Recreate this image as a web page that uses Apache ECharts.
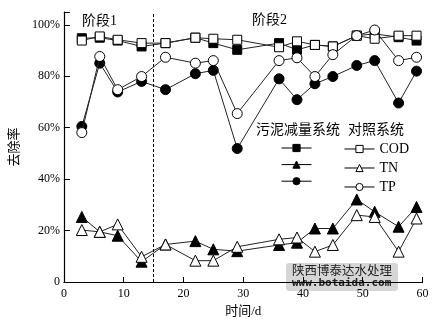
<!DOCTYPE html>
<html><head><meta charset="utf-8">
<script src="https://cdn.jsdelivr.net/npm/echarts@6/dist/echarts.min.js"></script>
<style>html,body{margin:0;padding:0;background:#fff}#c{width:441px;height:327px}</style>
</head><body><div id="c"></div>
<script>
const days = [3,6,9,13,17,22,25,29,36,39,42,45,49,52,56,59];
const codSludge = [94.8,95.0,93.9,91.6,92.9,95.0,92.9,90.3,92.9,90.3,92.2,91.6,95.8,96.5,95.2,93.9];
const codControl = [93.9,95.5,94.2,92.9,92.9,95.0,94.6,94.2,91.3,93.6,92.2,91.6,95.8,94.6,95.8,95.8];
const tnSludge = [25.3,19.5,18.0,7.9,14.6,15.9,12.7,12.0,14.4,15.3,20.8,20.8,32.1,27.3,21.5,29.2];
const tnControl = [20.2,19.5,22.4,9.8,14.6,8.3,8.3,13.7,16.6,17.3,11.8,14.4,26.0,25.3,11.8,24.7];
const tpSludge = [60.5,85.1,73.9,78.0,74.8,81.0,82.3,51.9,79.0,70.9,77.1,79.9,84.2,86.1,69.6,82.0];
const tpControl = [58.1,87.7,74.8,79.9,87.4,85.1,86.1,65.5,86.1,87.2,79.9,88.4,95.8,98.0,86.1,87.4];
const yTicks = [0,20,40,60,80,100];
const stageSplit = 15;

const font = '"Liberation Serif","Noto Sans CJK SC",serif';
const pair = (xs, ys) => xs.map((x,i)=>[x, ys[i]]);
function ser(name, data, symbol, filled, size){
  return {
    name, type:'line', data: pair(days, data), symbol, symbolSize: size,
    lineStyle:{color:'#222', width:1},
    itemStyle:{color: filled ? '#000' : '#fff', borderColor:'#000', borderWidth:1},
    emphasis:{disabled:true}, animation:false, z: filled?3:4
  };
}
const series = [
  ser('COD-s', codSludge, 'rect', true, 9),
  ser('TN-s', tnSludge, 'triangle', true, 11),
  ser('TP-s', tpSludge, 'circle', true, 10),
  ser('COD', codControl, 'rect', false, 9),
  ser('TN', tnControl, 'triangle', false, 11),
  ser('TP', tpControl, 'circle', false, 10)
];
series[0].markLine = {
  silent:true, symbol:['none','none'], label:{show:false},
  lineStyle:{color:'#000', type:[3,2], width:1},
  data:[{xAxis: stageSplit}]
};
const legendCommon = {orient:'vertical', itemWidth:30, itemHeight:9, padding:0, selectedMode:false,
  lineStyle:{width:1, color:'#000'}, itemStyle:{borderWidth:1}};
const chart = echarts.init(document.getElementById('c'), null, {renderer:'canvas'});
chart.setOption({
  animation:false,
  textStyle:{fontFamily:font},
  grid:{left:52.5, right:18.5, top:12, bottom:45},
  xAxis:{type:'value', min:0, max:60, interval:10,
    name:'时间/d', nameLocation:'middle', nameGap:23,
    nameTextStyle:{fontFamily:font, fontSize:13, color:'#000'},
    axisLine:{lineStyle:{color:'#000', width:1.2}},
    axisTick:{inside:true, length:5, lineStyle:{color:'#000'}},
    axisLabel:{fontFamily:font, fontSize:12, color:'#000', margin:6},
    splitLine:{show:false}},
  yAxis:{type:'value', min:0, max:105, interval:20,
    name:'去除率', nameLocation:'middle', nameGap:38, nameRotate:90,
    nameTextStyle:{fontFamily:font, fontSize:13, color:'#000'},
    axisLine:{show:true, lineStyle:{color:'#000', width:1.2}},
    axisTick:{inside:true, length:6, lineStyle:{color:'#000'}},
    axisLabel:{fontFamily:font, fontSize:12, color:'#000', margin:4,
      formatter:v => yTicks.includes(v) ? (v===0 ? '0' : v+'%') : ''},
    splitLine:{show:false}},
  legend:[
    Object.assign({data:['COD-s','TN-s','TP-s'], left:281, top:143.5, itemGap:8, formatter:()=>'',
      textStyle:{fontFamily:font, fontSize:14}}, legendCommon),
    Object.assign({data:['COD','TN','TP'], left:344, top:142, itemGap:5,
      textStyle:{fontFamily:font, fontSize:14, color:'#000'}}, legendCommon)
  ],
  graphic:[
    {type:'text', left:82, top:14, style:{text:'阶段1', font:'14px '+font, fill:'#000'}},
    {type:'text', left:252, top:13, style:{text:'阶段2', font:'14px '+font, fill:'#000'}},
    {type:'text', left:256, top:123, style:{text:'污泥减量系统', font:'14px '+font, fill:'#000'}},
    {type:'text', left:348, top:123, style:{text:'对照系统', font:'14px '+font, fill:'#000'}},
    {type:'group', left:286, top:263, z:100, children:[
      {type:'rect', shape:{x:0,y:0,width:112,height:28,r:3}, style:{fill:'rgba(200,200,200,0.75)'}},
      {type:'text', left:6, top:1, style:{text:'陕西博泰达水处理', font:'12.5px "Noto Sans CJK SC",sans-serif', fill:'#222'}},
      {type:'text', left:6, top:15, style:{text:'www.botaida.com', font:'bold 11px "DejaVu Sans Mono",monospace', fill:'#222'}}
    ]}
  ],
  series
});
</script></body></html>
